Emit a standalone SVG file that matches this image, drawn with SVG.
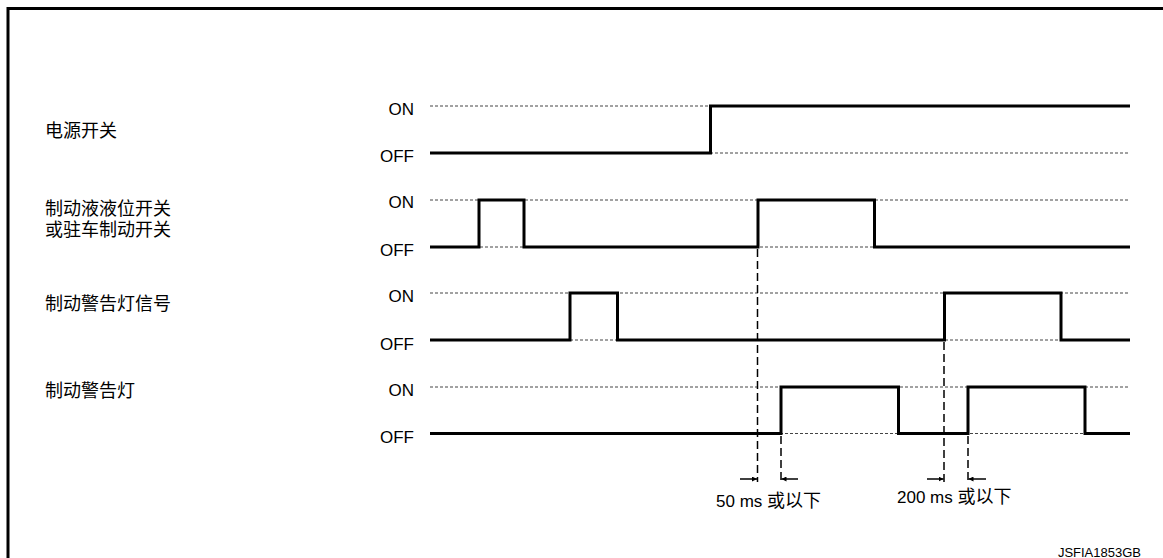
<svg xmlns="http://www.w3.org/2000/svg" width="1163" height="558" viewBox="0 0 1163 558">
<style>
.frame{fill:none;stroke:#000;stroke-width:3}
.ref{stroke:#444;stroke-width:1;stroke-dasharray:3 2;fill:none}
.sig{fill:none;stroke:#000;stroke-width:3;stroke-linejoin:miter}
.lbl{font-family:"Liberation Sans","Noto Sans CJK SC",sans-serif;font-size:18px;fill:#000}
.st{font-family:"Liberation Sans",Arial,sans-serif;font-size:17px;fill:#000;text-anchor:end}
.tm{font-family:"Liberation Sans","Noto Sans CJK SC",sans-serif;font-size:17px;fill:#000}
.cjk{font-family:"Noto Sans CJK SC",sans-serif;font-size:18px}
.dash{stroke:#000;stroke-width:1.5;stroke-dasharray:8 4;fill:none}
.arr{stroke:#000;stroke-width:1.5;fill:none;marker-end:url(#ah)}
.code{font-family:"Liberation Sans",Arial,sans-serif;font-size:13px;fill:#000;text-anchor:end}
</style>
<defs>
<marker id="ah" viewBox="0 0 10 10" refX="10" refY="5" markerWidth="5" markerHeight="5" orient="auto" markerUnits="userSpaceOnUse">
<path d="M0,0 L10,5 L0,10 z" fill="#000"/>
</marker>
</defs>
<rect width="1163" height="558" fill="#fff"/>
<path class="frame" d="M8,558 L8,8.5 L1163,8.5"/>

<g id="power-switch">
<text class="lbl" x="45" y="137">电源开关</text>
<text class="st" x="414" y="115">ON</text>
<text class="st" x="414" y="161.5">OFF</text>
<line class="ref" x1="430" y1="106" x2="1130" y2="106"/>
<line class="ref" x1="430" y1="153" x2="1130" y2="153"/>
<path class="sig" d="M430,153 H710.5 V106 H1130"/>
</g>

<g id="brake-fluid-switch">
<text class="lbl" x="45" y="215">制动液液位开关</text>
<text class="lbl" x="45" y="236">或驻车制动开关</text>
<text class="st" x="414" y="208">ON</text>
<text class="st" x="414" y="255.5">OFF</text>
<line class="ref" x1="430" y1="200" x2="1130" y2="200"/>
<line class="ref" x1="430" y1="247" x2="1130" y2="247"/>
<path class="sig" d="M430,247 H479 V200 H524 V247 H758 V200 H874.5 V247 H1130"/>
</g>

<g id="warning-signal">
<text class="lbl" x="45" y="310">制动警告灯信号</text>
<text class="st" x="414" y="302">ON</text>
<text class="st" x="414" y="349.5">OFF</text>
<line class="ref" x1="430" y1="293" x2="1130" y2="293"/>
<line class="ref" x1="430" y1="340" x2="1130" y2="340"/>
<path class="sig" d="M430,340 H570 V293 H617.5 V340 H944.5 V293 H1061 V340 H1130"/>
</g>

<g id="warning-lamp">
<text class="lbl" x="45" y="397">制动警告灯</text>
<text class="st" x="414" y="396">ON</text>
<text class="st" x="414" y="443">OFF</text>
<line class="ref" x1="430" y1="387" x2="1130" y2="387"/>
<line class="ref" x1="430" y1="433.5" x2="1130" y2="433.5"/>
<path class="sig" d="M430,433.5 H781 V387 H898.5 V433.5 H968 V387 H1085 V433.5 H1130"/>
</g>

<g id="connectors">
<line class="dash" x1="757.5" y1="249" x2="757.5" y2="482"/>
<line class="dash" x1="781" y1="436" x2="781" y2="482"/>
<line class="dash" x1="944" y1="342" x2="944" y2="482"/>
<line class="dash" x1="968" y1="436" x2="968" y2="482"/>
<line class="arr" x1="740" y1="479" x2="757" y2="479"/>
<line class="arr" x1="798" y1="479" x2="781.5" y2="479"/>
<line class="arr" x1="927" y1="479" x2="943.5" y2="479"/>
<line class="arr" x1="986" y1="479" x2="968.5" y2="479"/>
</g>

<g id="timing-labels">
<text class="tm" x="716" y="506.5">50 ms <tspan class="cjk">或以下</tspan></text>
<text class="tm" x="897" y="503">200 ms <tspan class="cjk">或以下</tspan></text>
</g>

<text class="code" x="1141" y="557">JSFIA1853GB</text>
</svg>
